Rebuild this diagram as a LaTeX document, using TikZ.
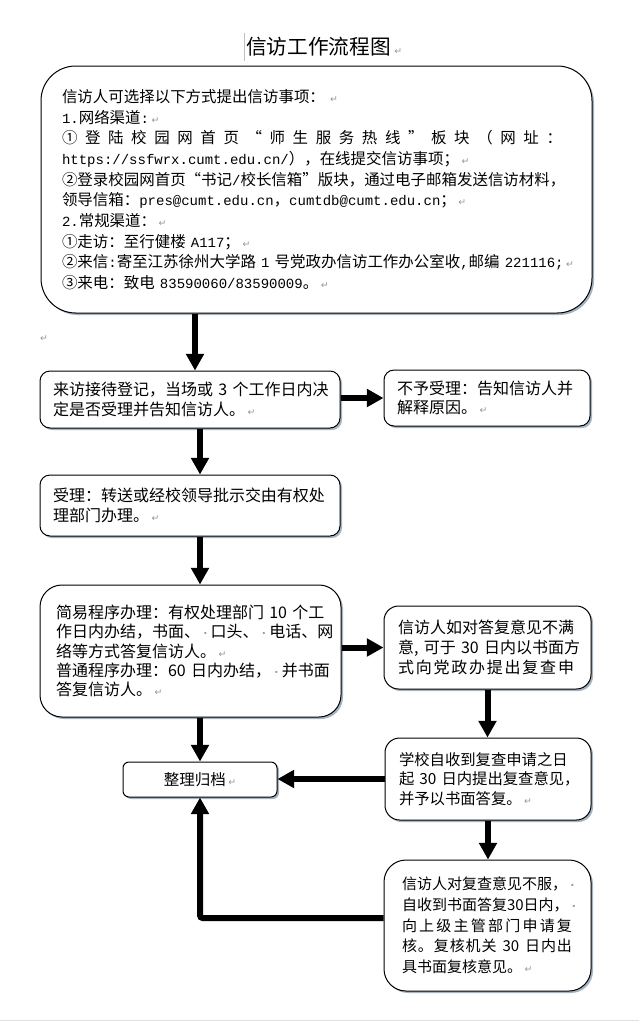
\documentclass[tikz,border=0pt]{standalone}
\usepackage{fontspec}
\setmainfont{Noto Sans CJK SC}
\newfontfamily\monofont{Liberation Mono}
\newfontfamily\symfont{DejaVu Sans}
\usetikzlibrary{arrows.meta,shadows,calc}

\definecolor{markgray}{RGB}{150,150,150}
\definecolor{shadowblue}{RGB}{165,180,195}

% paragraph and space marks as the page shows them
\newcommand\retmark{\,{\symfont\fontsize{7}{7}\selectfont\color{markgray}↵}}
\newcommand\spmark{{\fontsize{8}{8}\selectfont\color{markgray}·}}
\newcommand\lat[1]{{\monofont\fontsize{10.5}{15.5}\selectfont #1}}

% spread one line over a given width
\makeatletter
\newcommand\spreadto[2]{\makebox[#1][s]{\spread@#2\@nil}}
\def\spread@#1#2\@nil{#1\ifx\relax#2\relax\else\hfill\spread@#2\@nil\fi}
\makeatother

\begin{document}
\begin{tikzpicture}[x=0.75pt,y=-0.75pt,
  box/.style={draw, line width=0.75pt, fill=white, align=left, inner ysep=0pt,
    drop shadow={shadow xshift=1.5pt, shadow yshift=-1.5pt, fill=shadowblue, opacity=1},
    font=\fontsize{12}{15}\selectfont},
  arr/.style={line width=4.5pt, -{Triangle[length=12.5pt,width=13pt]}}]
  \path[fill=white] (0,0) rectangle (639,1022);
  \useasboundingbox (0,0) rectangle (639,1022);

  \node[anchor=west, inner sep=0pt, font=\fontsize{15.5}{18}\selectfont] (title) at (246,47)
    {信访工作流程图\retmark};
  \draw[markgray!60, line width=0.5pt] (244,33) -- (244,61);

  \node[box, rounded corners=26pt, text width=381.75pt, inner xsep=15.75pt,
    minimum height=185.25pt, font=\fontsize{11.6}{15.5}\selectfont] (ways) at (316.5,189.5)
    {信访人可选择以下方式提出信访事项：\,\retmark\\
     \lat{1.}网络渠道\lat{:}\retmark\\
     \spreadto{375pt}{①登陆校园网首页“师生服务热线”板块（网址：}\\
     \lat{https://ssfwrx.cumt.edu.cn/}），在线提交信访事项；\retmark\\
     ②登录校园网首页“书记\lat{/}校长信箱”版块，通过电子邮箱发送信访材料，\\
     领导信箱：\lat{pres@cumt.edu.cn}，\lat{cumtdb@cumt.edu.cn}；\retmark\\
     \lat{2.}常规渠道：\retmark\\
     ①走访：至行健楼\lat{~A117}；\retmark\\
     ②来信\lat{:}寄至江苏徐州大学路\lat{~1~}号党政办信访工作办公室收\lat{,}邮编\lat{~221116;}\retmark\\
     ③来电：致电\lat{~83590060/83590009}。\retmark};
  \node[inner sep=0pt] (blank) at (43,339) {\retmark};

  \node[box, rounded corners=7.5pt, text width=205.5pt, inner xsep=9.75pt,
    minimum height=42.75pt] (visit) at (190,399.5)
    {来访接待登记，当场或~3~个工作日内决\\定是否受理并告知信访人。\retmark};
  \node[box, rounded corners=7.5pt, text width=135pt, inner xsep=9.75pt,
    minimum height=42pt, font=\fontsize{12}{14}\selectfont] (reject) at (487,398)
    {不予受理：告知信访人并\\解释原因。\retmark};
  \node[box, rounded corners=7.5pt, text width=205.5pt, inner xsep=9.75pt,
    minimum height=45.75pt] (accept) at (190,505.5)
    {受理：转送或经校领导批示交由有权处\\理部门办理。\retmark};
  \node[box, rounded corners=16.5pt, text width=201.75pt, inner xsep=12pt,
    minimum height=99pt, font=\fontsize{12}{14.5}\selectfont] (handle) at (190.5,651)
    {简易程序办理：有权处理部门~10~个工\\
     作日内办结，书面、\spmark 口头、\spmark 电话、网\\
     络等方式答复信访人。\retmark\\
     普通程序办理：60~日内办结，\spmark 并书面\\
     答复信访人。\retmark};
  \node[box, rounded corners=11pt, text width=134.25pt, inner xsep=10.5pt,
    minimum height=62.25pt] (appeal) at (487.5,647.5)
    {信访人如对答复意见不满\\
     \spreadto{132pt}{意{,~}可于{~30~}日内以书面方}\\
     \spreadto{132pt}{式向党政办提出复查申}};
  \node[box, rounded corners=11pt, text width=133.5pt, inner xsep=10.5pt,
    minimum height=61.5pt, font=\fontsize{11.5}{14.6}\selectfont] (review) at (488,779)
    {学校自收到复查申请之日\\起~30~日内提出复查意见，\\并予以书面答复。\retmark};
  \node[box, rounded corners=4.5pt, align=center, minimum width=115.5pt,
    minimum height=26.25pt, font=\fontsize{11.6}{14}\selectfont] (archive) at (200,779.5)
    {整理归档\retmark};
  \node[box, rounded corners=16.5pt, text width=128.25pt, inner xsep=13.5pt,
    minimum height=98.25pt, font=\fontsize{11.25}{15.5}\selectfont] (recheck) at (487.5,925.5)
    {信访人对复查意见不服，\spmark\\
     自收到书面答复30日内，\spmark\\
     \spreadto{127.5pt}{向上级主管部门申请复}\\
     \spreadto{127.5pt}{核。复核机关{~30~}日内出}\\
     具书面复核意见。\retmark};

  % connectors
  \draw[arr] ($(ways.south -| archive.north)+(-5,0)$) -- ($(visit.north -| archive.north)+(-5,0)$);
  \draw[arr] (reject.west -| visit.east) -- (reject.west);
  \draw[arr] (visit.south -| archive.north) -- (accept.north -| archive.north);
  \draw[arr] (accept.south -| archive.north) -- (handle.north -| archive.north);
  \draw[arr] (appeal.west -| handle.east) -- (appeal.west);
  \draw[arr] (handle.south -| archive.north) -- (archive.north);
  \draw[arr] (appeal.south) -- (appeal.south |- review.north);
  \draw[arr] (review.west) -- (review.west -| archive.east);
  \draw[arr] (review.south) -- (review.south |- recheck.north);
  \draw[arr, rounded corners=2pt] ($(recheck.west)+(0,-7.5)$) -| (archive.south);

  \draw[black!12] (0,1020.5) -- (639,1020.5);
\end{tikzpicture}
\end{document}
